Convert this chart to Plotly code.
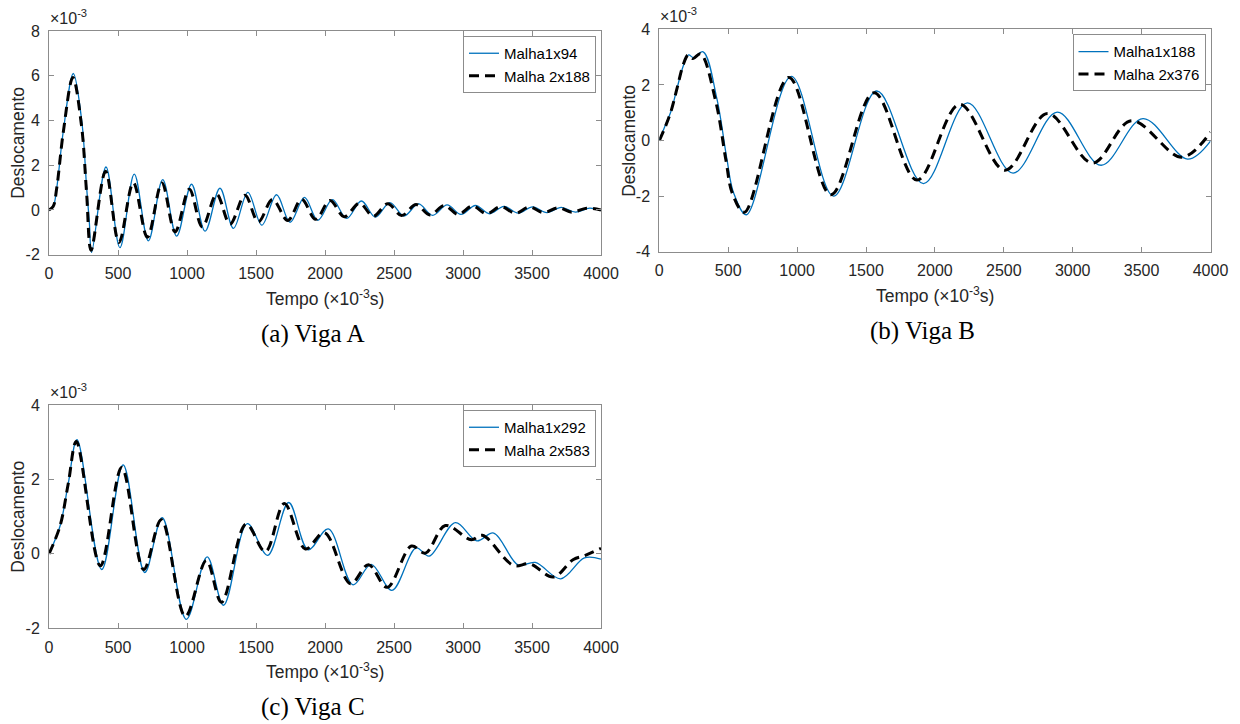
import plotly.graph_objects as go

# ---------------- data (displacement in units of 1e-3, time in 1e-3 s) ----------------
tA_fine = [0, 30, 56, 104, 176, 237, 273, 292, 309, 413, 514, 618, 720, 824, 925, 1033, 1131,
           1239, 1337, 1441, 1542, 1649, 1747, 1851, 1948, 2054, 2157, 2264, 2365, 2470, 2572,
           2677, 2780, 2885, 2985, 3090, 3192, 3297, 3400, 3505, 3607, 3712, 3815, 3918, 4000]
vA_fine = [0, 0.15, 0.98, 3.54, 6.1, 4.0, 0.98, -0.53, -1.9, 1.92, -1.68, 1.6, -1.38, 1.36, -1.17,
           1.15, -0.95, 0.97, -0.82, 0.79, -0.68, 0.68, -0.55, 0.56, -0.46, 0.46, -0.38, 0.4,
           -0.32, 0.33, -0.27, 0.27, -0.24, 0.23, -0.2, 0.2, -0.17, 0.16, -0.14, 0.14, -0.12,
           0.12, -0.1, 0.08, -0.02]
tA_coarse = [0, 30, 56, 104, 173, 235, 272, 305, 410, 507, 611, 713, 818, 914, 1017, 1111, 1215,
             1312, 1420, 1517, 1620, 1730, 1831, 1932, 2036, 2140, 2250, 2350, 2455, 2555, 2660,
             2760, 2865, 2965, 3070, 3170, 3275, 3380, 3480, 3585, 3690, 3790, 3895, 4000]
vA_coarse = [0, 0.15, 0.98, 3.5, 5.92, 3.8, 0.8, -1.8, 1.73, -1.45, 1.22, -1.22, 1.2, -0.98, 0.93,
             -0.76, 0.7, -0.63, 0.66, -0.53, 0.47, -0.47, 0.48, -0.42, 0.42, -0.3, 0.3, -0.28,
             0.28, -0.25, 0.24, -0.22, 0.2, -0.2, 0.18, -0.17, 0.15, -0.15, 0.13, -0.12, 0.1,
             -0.1, 0.08, 0.0]

tB_fine = [0, 40, 85, 130, 175, 213, 248, 318, 419, 491, 539, 632, 958, 1265, 1578, 1917, 2236,
           2567, 2888, 3206, 3510, 3834, 4000]
vB_fine = [0, 0.5, 1.05, 1.9, 2.7, 3.08, 2.98, 3.19, 1.48, -0.68, -1.88, -2.67, 2.31, -2.0, 1.78,
           -1.55, 1.35, -1.17, 1.02, -0.89, 0.79, -0.67, -0.02]
tB_coarse = [0, 40, 85, 130, 175, 210, 245, 300, 410, 485, 530, 618, 940, 1245, 1558, 1870, 2180,
             2508, 2817, 3143, 3425, 3792, 4000]
vB_coarse = [0, 0.45, 1.05, 1.9, 2.75, 3.08, 2.95, 3.12, 1.4, -0.75, -1.9, -2.58, 2.27, -1.95,
             1.72, -1.42, 1.3, -1.07, 0.97, -0.81, 0.71, -0.6, 0.3]

tC_fine = [0, 80, 140, 203, 382, 537, 694, 820, 995, 1146, 1265, 1437, 1584, 1737, 1878, 2024,
           2203, 2335, 2485, 2660, 2755, 2945, 3100, 3222, 3400, 3524, 3708, 3880, 4000]
vC_fine = [0, 0.75, 1.9, 3.07, -0.42, 2.39, -0.5, 0.97, -1.76, -0.08, -1.38, 0.81, -0.04, 1.38,
           0.11, 0.67, -0.83, -0.28, -0.98, 0.16, -0.06, 0.84, 0.35, 0.56, -0.3, -0.23, -0.67,
           -0.11, -0.14]
tC_coarse = [0, 80, 140, 198, 372, 527, 686, 814, 988, 1140, 1250, 1428, 1568, 1705, 1858, 1995,
             2185, 2315, 2450, 2626, 2728, 2872, 3060, 3140, 3365, 3486, 3654, 3800, 3880, 4000]
vC_coarse = [0, 0.75, 1.9, 3.02, -0.32, 2.32, -0.42, 0.92, -1.68, -0.18, -1.3, 0.8, 0.06, 1.35,
             0.13, 0.57, -0.8, -0.29, -0.9, 0.21, 0.02, 0.76, 0.38, 0.5, -0.31, -0.27, -0.62,
             -0.15, -0.05, 0.15]

legend_names = {
    "A": ["Malha1x94", "Malha 2x188"],
    "B": ["Malha1x188", "Malha 2x376"],
    "C": ["Malha1x292", "Malha 2x583"],
}
captions = ["(a) Viga A", "(b) Viga B", "(c) Viga C"]
x_ticks = [0, 500, 1000, 1500, 2000, 2500, 3000, 3500, 4000]
yA_ticks = [-2, 0, 2, 4, 6, 8]
yB_ticks = [-4, -2, 0, 2, 4]
yC_ticks = [-2, 0, 2, 4]

# ---------------- figure ----------------
W, H = 1240, 724
BLUE = "#0072BD"
AX = "#8c8c8c"
TXT = "#262626"
SANS = "Liberation Sans, Arial, Helvetica, sans-serif"
SERIF = "Liberation Serif, Times New Roman, serif"

fig = go.Figure()

panels = [
    dict(key="A", x="x", y="y", legend="legend", tf=tA_fine, vf=vA_fine, tc=tA_coarse, vc=vA_coarse),
    dict(key="B", x="x2", y="y2", legend="legend2", tf=tB_fine, vf=vB_fine, tc=tB_coarse, vc=vB_coarse),
    dict(key="C", x="x3", y="y3", legend="legend3", tf=tC_fine, vf=vC_fine, tc=tC_coarse, vc=vC_coarse),
]
for p in panels:
    n1, n2 = legend_names[p["key"]]
    fig.add_trace(go.Scatter(x=p["tf"], y=p["vf"], mode="lines", name=n1,
                             line=dict(color=BLUE, width=1.3, shape="spline", smoothing=1.0),
                             xaxis=p["x"], yaxis=p["y"], legend=p["legend"]))
    fig.add_trace(go.Scatter(x=p["tc"], y=p["vc"], mode="lines", name=n2,
                             line=dict(color="black", width=3, dash="10px,6px", shape="spline", smoothing=1.0),
                             xaxis=p["x"], yaxis=p["y"], legend=p["legend"]))

# pixel geometry of plot areas (left, right, top, bottom)
boxes = {
    "A": (49, 601, 31, 254.7),
    "B": (659.3, 1210.5, 29.3, 251.7),
    "C": (49, 601, 405, 628.3),
}


def xdom(b):
    return [b[0] / W, b[1] / W]


def ydom(b):
    return [1 - b[3] / H, 1 - b[2] / H]


def xaxis(b, anchor):
    return dict(domain=xdom(b), anchor=anchor, range=[0, 4000], tickvals=x_ticks,
                ticktext=[str(v) for v in x_ticks], showline=True, linecolor=AX, linewidth=1,
                mirror="ticks", ticks="inside", ticklen=5, tickcolor=AX, tickwidth=1,
                showgrid=False, zeroline=False, ticklabelstandoff=4, automargin=False,
                tickfont=dict(family=SANS, size=16, color=TXT))


def yaxis(b, anchor, rng, vals):
    return dict(domain=ydom(b), anchor=anchor, range=rng, tickvals=vals,
                ticktext=[str(v) for v in vals], showline=True, linecolor=AX, linewidth=1,
                mirror="ticks", ticks="inside", ticklen=5, tickcolor=AX, tickwidth=1,
                showgrid=False, zeroline=False, ticklabelstandoff=5, automargin=False,
                tickfont=dict(family=SANS, size=16, color=TXT))


def legend_at(b):
    return dict(x=(b[1] - 5) / W, y=1 - (b[2] + 5) / H, xanchor="right", yanchor="top",
                bgcolor="white", bordercolor=AX, borderwidth=1, itemwidth=30,
                tracegroupgap=0, font=dict(family=SANS, size=15, color="black"))


annotations = []
for key, cap in zip(["A", "B", "C"], captions):
    b = boxes[key]
    cx = (b[0] + b[1]) / 2
    cy = (b[2] + b[3]) / 2
    annotations.append(dict(xref="paper", yref="paper", x=(b[0] - 1) / W, y=1 - (b[2] - 2) / H,
                            xanchor="left", yanchor="bottom", showarrow=False,
                            text="×10<sup>-3</sup>", font=dict(family=SANS, size=16, color=TXT)))
    annotations.append(dict(xref="paper", yref="paper", x=(b[0] - 31) / W, y=1 - cy / H,
                            xanchor="center", yanchor="middle", showarrow=False, textangle=-90,
                            text="Deslocamento", font=dict(family=SANS, size=17.5, color=TXT)))
    annotations.append(dict(xref="paper", yref="paper", x=cx / W, y=1 - (b[3] + 43) / H,
                            xanchor="center", yanchor="middle", showarrow=False,
                            text="Tempo (×10<sup>-3</sup>s)", font=dict(family=SANS, size=17.5, color=TXT)))
    annotations.append(dict(xref="paper", yref="paper", x=(cx - 12) / W, y=1 - (b[3] + 79) / H,
                            xanchor="center", yanchor="middle", showarrow=False,
                            text=cap, font=dict(family=SERIF, size=25, color="black")))

fig.update_layout(
    template="none",
    width=W, height=H, autosize=False,
    margin=dict(l=0, r=0, t=0, b=0, autoexpand=False),
    paper_bgcolor="white", plot_bgcolor="white",
    xaxis=xaxis(boxes["A"], "y"), yaxis=yaxis(boxes["A"], "x", [-2, 8], yA_ticks),
    xaxis2=xaxis(boxes["B"], "y2"), yaxis2=yaxis(boxes["B"], "x2", [-4, 4], yB_ticks),
    xaxis3=xaxis(boxes["C"], "y3"), yaxis3=yaxis(boxes["C"], "x3", [-2, 4], yC_ticks),
    legend=legend_at(boxes["A"]), legend2=legend_at(boxes["B"]), legend3=legend_at(boxes["C"]),
    annotations=annotations, showlegend=True,
)

fig.write_html("out.html", config={"displayModeBar": False},
               post_script="document.body.style.margin='0';document.body.style.overflow='hidden';")
